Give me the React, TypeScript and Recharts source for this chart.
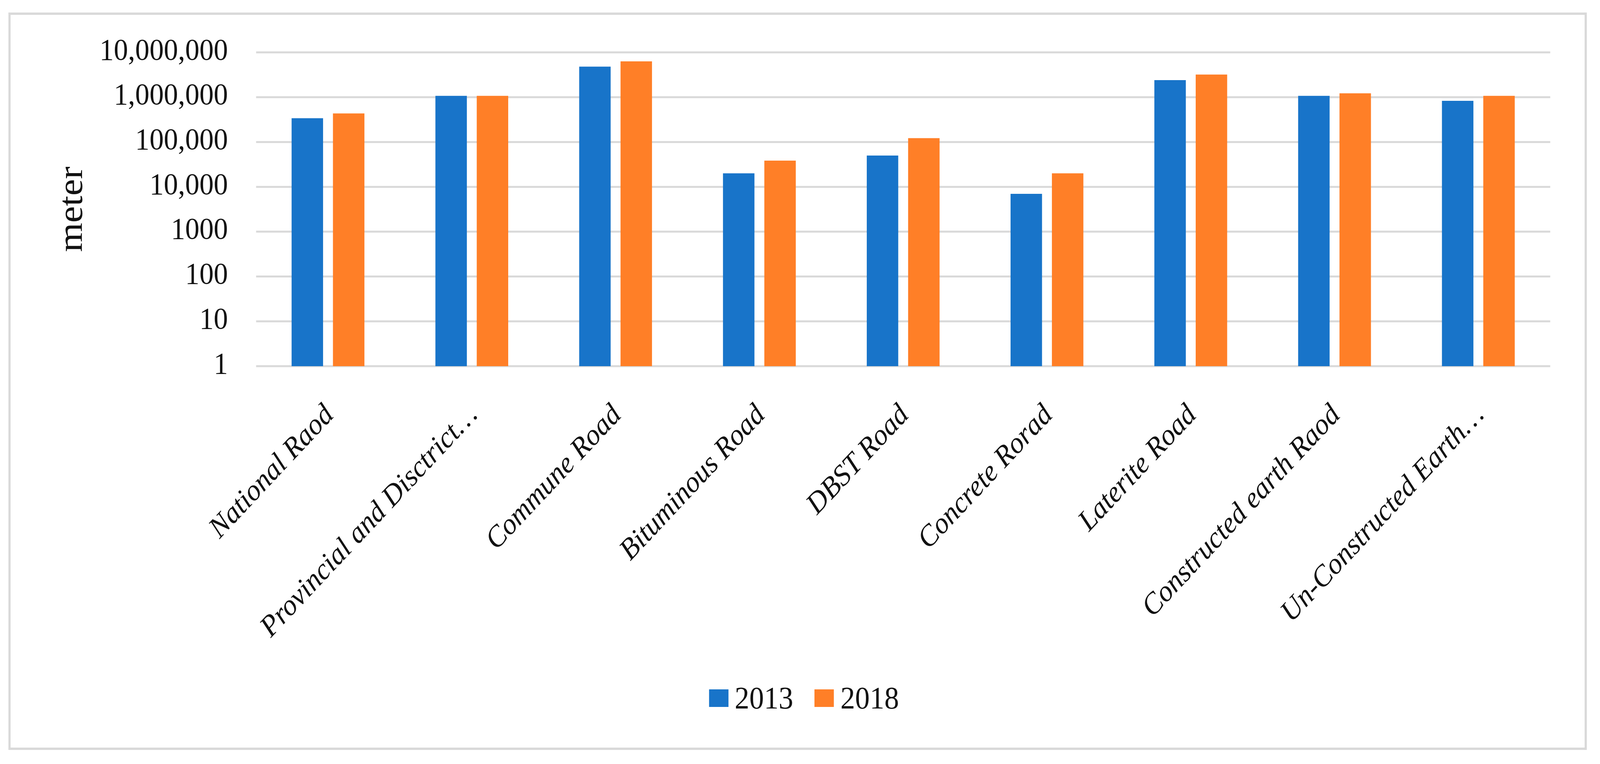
import React from 'react';
import { BarChart, Bar, XAxis, YAxis, CartesianGrid, Legend } from 'recharts';

const roadTypes = [
  'National Raod',
  'Provincial and Disctrict…',
  'Commune Road',
  'Bituminous Road',
  'DBST Road',
  'Concrete Rorad',
  'Laterite Road',
  'Constructed earth Raod',
  'Un-Constructed Earth…',
];
const length2013 = [340000, 1070000, 4800000, 20000, 50000, 7000, 2400000, 1070000, 830000];
const length2018 = [435000, 1070000, 6300000, 38500, 122000, 20000, 3200000, 1220000, 1070000];
const yTicks = [1, 10, 100, 1000, 10000, 100000, 1000000, 10000000];
const yTickLabels = ['1', '10', '100', '1000', '10,000', '100,000', '1,000,000', '10,000,000'];

const data = roadTypes.map((name, i) => ({ name, y2013: length2013[i], y2018: length2018[i] }));

const W = 4373;
const H = 1955;
const BLUE = '#1874C9';
const ORANGE = '#FF7F27';
const GRID = '#D9D9D9';
const FONT = '"Liberation Serif", "Times New Roman", serif';

const XTick = ({ x, y, payload }: any) => (
  <text
    transform={`translate(${x},${y + 109}) rotate(-45)`}
    textAnchor="end"
    dy="0.35em"
    fontFamily={FONT}
    fontStyle="italic"
    fontSize={76}
    fill="#111"
  >
    {payload.value}
  </text>
);

const YTick = ({ x, y, payload }: any) => {
  const idx = yTicks.indexOf(payload.value);
  return (
    <text x={x - 77} y={y - 8} dy="0.34em" textAnchor="end" fontFamily={FONT} fontSize={78} fill="#111">
      {idx >= 0 ? yTickLabels[idx] : payload.value}
    </text>
  );
};

const YTitle = ({ viewBox }: any) => {
  const cx = viewBox.x + 162;
  const cy = viewBox.y + viewBox.height / 2;
  return (
    <text
      transform={`translate(${cx},${cy}) rotate(-90)`}
      textAnchor="middle"
      dominantBaseline="central"
      fontFamily={FONT}
      fontSize={96}
      fill="#111"
    >
      meter
    </text>
  );
};

const LegendContent = () => (
  <div style={{ height: 70, position: 'relative', fontFamily: FONT, fontSize: 80, color: '#111' }}>
    <div style={{ position: 'absolute', left: 1938, top: 9, width: 53, height: 45, background: BLUE }} />
    <div style={{ position: 'absolute', left: 2008, top: -14, lineHeight: '90px' }}>2013</div>
    <div style={{ position: 'absolute', left: 2226, top: 9, width: 53, height: 45, background: ORANGE }} />
    <div style={{ position: 'absolute', left: 2297, top: -14, lineHeight: '90px' }}>2018</div>
  </div>
);

export default function App() {
  // fit the fixed-size drawing into whatever viewport the page actually gets
  const vw = typeof window !== 'undefined' && window.innerWidth ? window.innerWidth : W;
  const vh = typeof window !== 'undefined' && window.innerHeight ? window.innerHeight : H;
  const sx = Math.min(1, vw / W);
  const sy = Math.min(1, vh / H);
  if (typeof document !== 'undefined') {
    document.body.style.margin = '0';
    document.body.style.overflow = 'hidden';
  }

  return (
    <div
      style={{
        position: 'absolute',
        left: 0,
        top: 0,
        width: W,
        height: H,
        background: '#fff',
        transform: `scale(${sx}, ${sy})`,
        transformOrigin: '0 0',
      }}
    >
      <div
        style={{
          position: 'absolute',
          left: 23,
          top: 32,
          width: 4314,
          height: 1887,
          border: `6px solid ${GRID}`,
          boxSizing: 'border-box',
        }}
      />
      <div style={{ position: 'absolute', left: 0, top: 0 }}>
        <BarChart
          width={W}
          height={H}
          data={data}
          margin={{ top: 134, right: 136, left: 30, bottom: 130 }}
          barSize={86}
          barGap={27}
        >
          <CartesianGrid vertical={false} stroke={GRID} strokeWidth={5} />
          <XAxis
            dataKey="name"
            interval={0}
            axisLine={false}
            tickLine={false}
            tickSize={0}
            tickMargin={0}
            height={818}
            tick={<XTick />}
          />
          <YAxis
            scale="log"
            domain={[1, 10000000]}
            ticks={yTicks}
            allowDataOverflow
            axisLine={false}
            tickLine={false}
            tickSize={0}
            tickMargin={0}
            width={670}
            tick={<YTick />}
            label={{ content: <YTitle /> }}
          />
          <Legend
            verticalAlign="bottom"
            content={<LegendContent />}
            wrapperStyle={{ left: 0, width: W, height: 70 }}
          />
          <Bar dataKey="y2013" name="2013" fill={BLUE} isAnimationActive={false} />
          <Bar dataKey="y2018" name="2018" fill={ORANGE} isAnimationActive={false} />
        </BarChart>
      </div>
    </div>
  );
}
